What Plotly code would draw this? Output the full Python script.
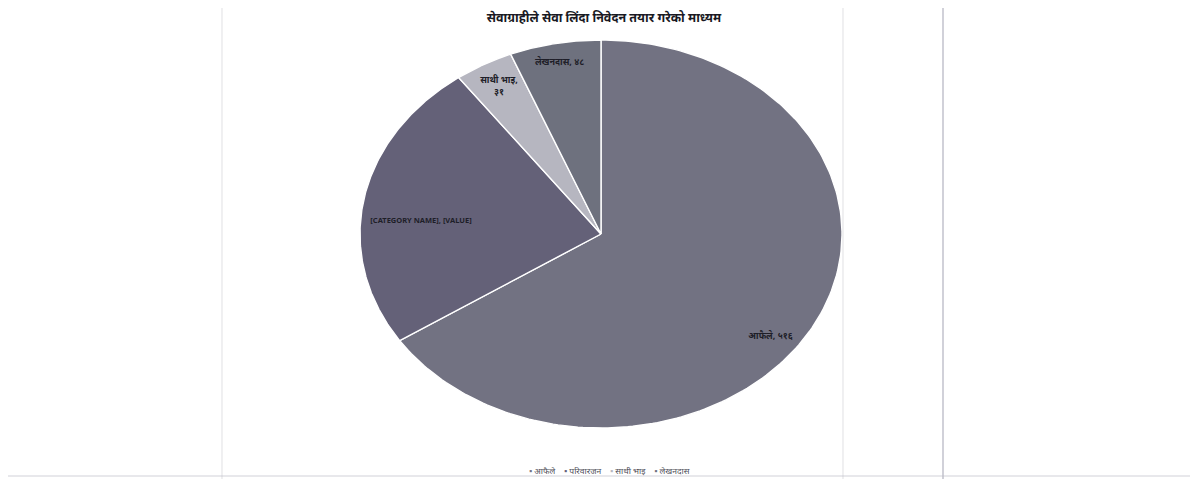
import numpy as np
import plotly.graph_objects as go

title = "सेवाग्राहीले सेवा लिंदा निवेदन तयार गरेको माध्यम"
categories = ["आफैले", "परिवारजन", "साथी भाइ", "लेखनदास"]
values = [516, 190, 31, 48]
label_texts = ["आफैले, {v}", "[CATEGORY NAME], [VALUE]", "साथी भाइ,<br>{v}", "लेखनदास, {v}"]

colors = ["rgb(114,114,130)", "rgb(100,97,120)", "rgb(182,182,192)", "rgb(110,113,126)"]
label_r = [0.88, 0.75, 0.87, 0.90]
label_shift = [8.6, -5, 0, 0]  # degrees
label_size = [9, 7.5, 9, 9]

DEV = str.maketrans("0123456789", "०१२३४५६७८९")

W, H = 1198, 479
OFF = 8  # page body offset
cx_l, cx_r = 360 - OFF, 842 - OFF
cy_t, cy_b = 40 - OFF, 428 - OFF

fig = go.Figure()
total = float(sum(values))
start = 0.0
for cat, v, col, lt, rr, sh, fs in zip(categories, values, colors, label_texts, label_r, label_shift, label_size):
    span = v / total * 360.0
    th = np.radians(np.linspace(start, start + span, 200))
    xs = np.concatenate([[0], np.sin(th), [0]])
    ys = np.concatenate([[0], np.cos(th), [0]])
    fig.add_trace(go.Scatter(x=xs, y=ys, mode="lines", fill="toself", fillcolor=col,
                             line=dict(color="white", width=1.4), name=cat,
                             hoverinfo="name", showlegend=False))
    mid = np.radians(start + span / 2 + sh)
    fig.add_trace(go.Scatter(x=[rr * np.sin(mid)], y=[rr * np.cos(mid)], mode="text",
                             text=["<b>" + lt.format(v=str(v).translate(DEV)) + "</b>"],
                             textfont=dict(size=fs, color="rgb(30,30,40)", family="Noto Sans, sans-serif"),
                             showlegend=False, hoverinfo="skip"))
    start += span

legend_text = "    ".join(
    f"<span style='color:{c}'>▪</span> {n}" for n, c in zip(categories, colors))

fig.update_layout(
    width=W, height=H, margin=dict(l=0, r=0, t=0, b=0),
    paper_bgcolor="white", plot_bgcolor="rgba(0,0,0,0)",
    xaxis=dict(domain=[cx_l / W, cx_r / W], range=[-1.0, 1.0], visible=False, fixedrange=True),
    yaxis=dict(domain=[(H - cy_b) / H, (H - cy_t) / H], range=[-1.0, 1.0], visible=False, fixedrange=True),
    title=dict(text="<b>" + title + "</b>", x=(604 - OFF) / W, xanchor="center", y=1 - (18 - OFF) / H,
               yanchor="middle",
               font=dict(size=12.5, color="rgb(25,25,35)", family="Noto Sans, sans-serif")),
    showlegend=False,
    annotations=[dict(text=legend_text, xref="paper", yref="paper", x=(609 - OFF) / W, xanchor="center",
                      y=1 - (470 - OFF) / H, yanchor="middle", showarrow=False,
                      font=dict(size=8.5, color="rgb(80,80,90)", family="Noto Sans, sans-serif"))],
)

# faint spreadsheet grid lines behind the scanned chart
for xp, c in [(222, "rgba(205,205,210,0.5)"), (843, "rgba(205,205,210,0.5)"), (943, "rgba(170,170,185,0.9)")]:
    fig.add_shape(type="line", xref="paper", yref="paper", x0=(xp - OFF) / W, x1=(xp - OFF) / W, y0=0, y1=1,
                  line=dict(color=c, width=1.2), layer="below")
fig.add_shape(type="line", xref="paper", yref="paper", x0=0, x1=1, y0=1 - (476 - OFF) / H, y1=1 - (476 - OFF) / H,
              line=dict(color="rgba(190,190,200,0.7)", width=1), layer="below")

fig.write_html("out.html")
